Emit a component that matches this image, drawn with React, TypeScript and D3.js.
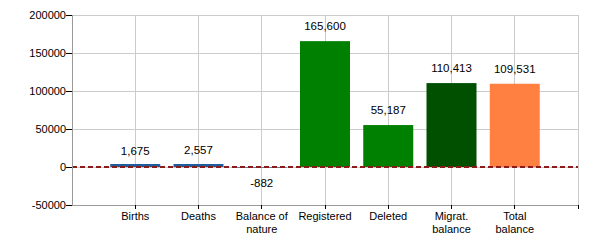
import React from "react";
import * as d3 from "d3";

const categories: string[][] = [["Births"], ["Deaths"], ["Balance of", "nature"], ["Registered"], ["Deleted"], ["Migrat.", "balance"], ["Total", "balance"]];
const values: number[] = [1675, 2557, -882, 165600, 55187, 110413, 109531];
const colors: string[] = ["#1f5c99", "#1f5c99", "#1f5c99", "#008000", "#008000", "#005000", "#ff8040"];
const yTicks: number[] = [-50000, 0, 50000, 100000, 150000, 200000];

export default function App() {
  const W = 600, H = 250;
  const left = 72, right = 578, top = 15, bottom = 205;
  const x = d3.scaleLinear().domain([0, categories.length + 1]).range([left, right]);
  const y = d3.scaleLinear().domain([-50000, 200000]).range([bottom, top]);
  const fmt = d3.format(",");
  const barW = 50;
  const font = "Liberation Sans, Arial, sans-serif";
  const xGrid = d3.range(1, categories.length + 2);
  return (
    <svg width={W} height={H} style={{ position: "absolute", left: 0, top: 0 }} fontFamily={font}>
      <rect x={0} y={0} width={W} height={H} fill="#fff" />
      {yTicks.map((t) => (
        <line key={"gy" + t} x1={left} x2={right} y1={y(t)} y2={y(t)} stroke="#cccccc" strokeWidth={1} shapeRendering="crispEdges" />
      ))}
      {xGrid.map((i) => (
        <line key={"gx" + i} x1={x(i)} x2={x(i)} y1={top} y2={bottom} stroke="#cccccc" strokeWidth={1} shapeRendering="crispEdges" />
      ))}
      {values.map((v, i) => {
        const cx = x(i + 1);
        const y0 = y(0), y1 = y(v);
        const h = v > 0 ? Math.max(y0 - y1, 3) : y1 - y0;
        return (
          <rect key={"b" + i} x={cx - barW / 2} width={barW} y={v > 0 ? y0 - h : y0} height={h} fill={colors[i]} />
        );
      })}
      <line x1={left} x2={right} y1={y(0)} y2={y(0)} stroke="#8b1a1a" strokeWidth={2} strokeDasharray="5,3" />
      <line x1={left} x2={left} y1={top} y2={bottom} stroke="#999" shapeRendering="crispEdges" />
      <line x1={left} x2={right} y1={bottom} y2={bottom} stroke="#999" shapeRendering="crispEdges" />
      {yTicks.map((t) => (
        <g key={"ty" + t}>
          <line x1={left - 6} x2={left} y1={y(t)} y2={y(t)} stroke="#000" shapeRendering="crispEdges" />
          <text x={left - 6} y={y(t)} dy="0.35em" textAnchor="end" fontSize={11} fill="#000">{t}</text>
        </g>
      ))}
      {xGrid.map((i) => (
        <line key={"tx" + i} x1={x(i)} x2={x(i)} y1={bottom} y2={bottom + 4} stroke="#000" shapeRendering="crispEdges" />
      ))}
      {categories.map((lines, i) => (
        <text key={"c" + i} x={x(i + 1)} y={220} textAnchor="middle" fontSize={11} fill="#000">
          {lines.map((l, j) => (
            <tspan key={j} x={x(i + 1)} dy={j === 0 ? 0 : 12.5}>{l}</tspan>
          ))}
        </text>
      ))}
      {values.map((v, i) => (
        <text key={"l" + i} x={x(i + 1)} y={v >= 0 ? y(v) - 11 : y(v) + 19} textAnchor="middle" fontSize={11.5} fill="#000">{fmt(v).replace("−", "-")}</text>
      ))}
    </svg>
  );
}
